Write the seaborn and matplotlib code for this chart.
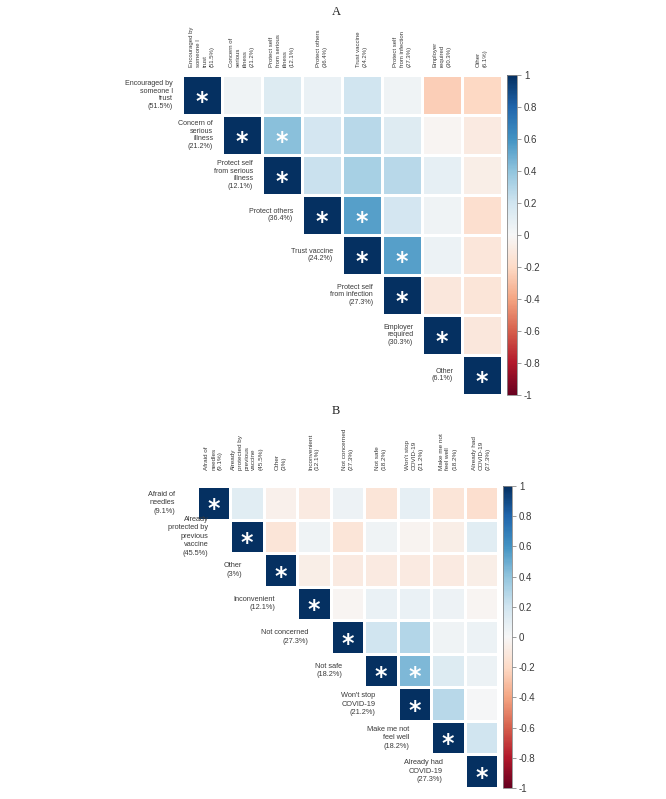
import numpy as np
import pandas as pd
import matplotlib
matplotlib.use("Agg")
import matplotlib.pyplot as plt
import seaborn as sns

# panel A: reasons for getting vaccinated
names_a = ["Encouraged by\nsomeone I\ntrust", "Concern of\nserious\nillness",
           "Protect self\nfrom serious\nillness", "Protect others", "Trust vaccine",
           "Protect self\nfrom infection", "Employer\nrequired", "Other"]
pct_a = ["51.5%", "21.2%", "12.1%", "36.4%", "24.2%", "27.3%", "30.3%", "6.1%"]
# upper triangle, row by row (starting at the diagonal)
corr_a = [
    [1.0, 0.04, 0.14, 0.07, 0.20, 0.04, -0.25, -0.21],
    [1.0, 0.42, 0.18, 0.28, 0.13, -0.02, -0.09],
    [1.0, 0.22, 0.33, 0.28, 0.09, -0.07],
    [1.0, 0.55, 0.18, 0.04, -0.17],
    [1.0, 0.55, 0.06, -0.12],
    [1.0, -0.11, -0.13],
    [1.0, -0.11],
    [1.0],
]
stars_a = [(0, 0), (1, 1), (1, 2), (2, 2), (3, 3), (3, 4), (4, 4), (4, 5),
           (5, 5), (6, 6), (7, 7)]

# panel B: reasons for not getting vaccinated
names_b = ["Afraid of\nneedles", "Already\nprotected by\nprevious\nvaccine", "Other",
           "Inconvenient", "Not concerned", "Not safe", "Won't stop\nCOVID-19",
           "Make me not\nfeel well", "Already had\nCOVID-19"]
pct_b = ["9.1%", "45.5%", "3%", "12.1%", "27.3%", "18.2%", "21.2%", "18.2%", "27.3%"]
corr_b = [
    [1.0, 0.11, -0.05, -0.09, 0.05, -0.13, 0.09, -0.13, -0.17],
    [1.0, -0.13, 0.04, -0.13, 0.04, -0.03, -0.07, 0.11],
    [1.0, -0.07, -0.09, -0.09, -0.09, -0.09, -0.07],
    [1.0, -0.02, 0.07, 0.07, 0.05, -0.02],
    [1.0, 0.20, 0.29, 0.04, 0.06],
    [1.0, 0.45, 0.14, 0.06],
    [1.0, 0.28, 0.01],
    [1.0, 0.20],
    [1.0],
]
stars_b = [(0, 0), (1, 1), (2, 2), (3, 3), (4, 4), (5, 5), (5, 6), (6, 6),
           (7, 7), (8, 8)]

cbar_ticks = [-1, -0.8, -0.6, -0.4, -0.2, 0, 0.2, 0.4, 0.6, 0.8, 1]

sns.set_style("white")
plt.rcParams['font.family'] = ['Liberation Sans', 'DejaVu Sans']
TXT = "#3a3a3a"

W, H = 666, 799
fig = plt.figure(figsize=(W / 100, H / 100), dpi=100)


def box(x0, y0, x1, y1):
    return [x0 / W, 1 - y1 / H, (x1 - x0) / W, (y1 - y0) / H]


def draw_panel(ax, cax, names, pcts, upper, stars, fs_row, fs_col, ls_row, gap, col_pad,
               star_dy):
    n = len(names)
    mat = np.full((n, n), np.nan)
    for i, row in enumerate(upper):
        mat[i, i:] = row
    labels = [f"{a}\n({p})" for a, p in zip(names, pcts)]
    df = pd.DataFrame(mat, index=labels, columns=labels)
    mask = np.tril(np.ones((n, n), dtype=bool), k=-1)
    sns.heatmap(df, mask=mask, ax=ax, cbar_ax=cax, cmap="RdBu", vmin=-1, vmax=1,
                linewidths=1, linecolor="white", xticklabels=True, yticklabels=False)

    ax.xaxis.tick_top()
    ax.set_xticklabels(labels, rotation=90, fontsize=fs_col, ha="center", va="bottom",
                       multialignment="left", color=TXT, linespacing=1.45)
    ax.tick_params(axis="x", length=0, pad=col_pad)
    ax.tick_params(axis="y", length=0)
    ax.set_xlabel("")
    ax.set_ylabel("")

    for i, lab in enumerate(labels):
        ax.text(i - gap, i + 0.5, lab, ha="right", va="center", multialignment="right",
                fontsize=fs_row, color=TXT, linespacing=ls_row)

    for i, j in stars:
        ax.text(j + 0.5, i + 0.5 + star_dy, "*", ha="center", va="center",
                color="white", fontsize=17, fontweight="bold", family="DejaVu Sans")

    cb = ax.collections[0].colorbar
    cb.outline.set_visible(True)
    cb.outline.set_linewidth(0.6)
    cb.outline.set_edgecolor("#8a8a8a")
    cax.set_yticks(cbar_ticks)
    cax.set_yticklabels([f"{t:g}" for t in cbar_ticks])
    cax.tick_params(axis="y", length=3, width=0.6, color="#8a8a8a", labelsize=7,
                    labelcolor=TXT, pad=2)


ax_a = fig.add_axes(box(182, 75, 502, 395))
cax_a = fig.add_axes(box(507, 75, 517, 395))
draw_panel(ax_a, cax_a, names_a, pct_a, corr_a, stars_a, 5.1, 4.3, 1.15, 0.22, 5.5, 0.17)

ax_b = fig.add_axes(box(197, 486, 498, 788))
cax_b = fig.add_axes(box(503, 486, 512, 788))
draw_panel(ax_b, cax_b, names_b, pct_b, corr_b, stars_b, 5.3, 4.6, 1.3, 0.66, 11.5, 0.2)

fig.text(336 / W, 1 - 12 / H, "A", ha="center", va="center",
         family="Liberation Serif", fontsize=9, color="#222222")
fig.text(336 / W, 1 - 411 / H, "B", ha="center", va="center",
         family="Liberation Serif", fontsize=9, color="#222222")

fig.savefig("out.png", dpi=100)
